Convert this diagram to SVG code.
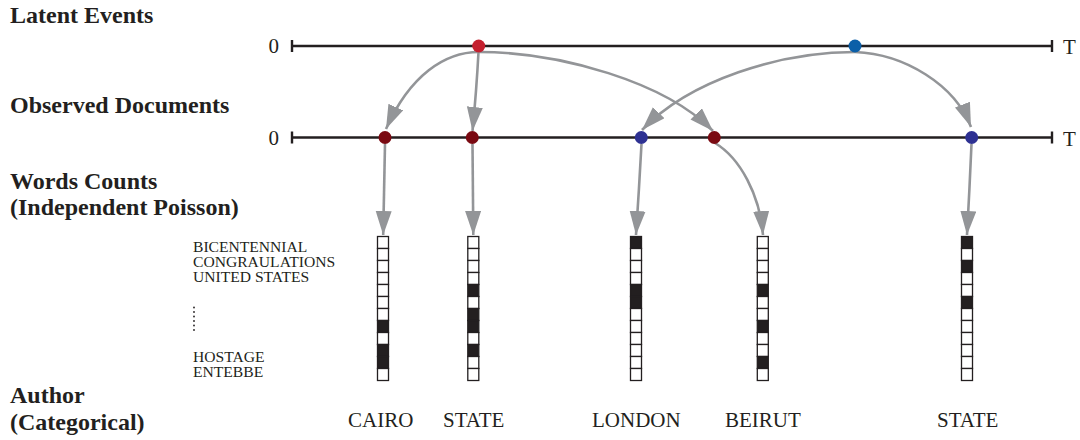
<svg xmlns="http://www.w3.org/2000/svg" width="1080" height="440" viewBox="0 0 1080 440">
<style>
.h{font-family:"Liberation Serif","Times New Roman",serif;font-weight:bold;font-size:24px;fill:#231f20}
.lab{font-family:"Liberation Serif","Times New Roman",serif;font-size:21px;fill:#231f20}
.w{font-family:"Liberation Serif","Times New Roman",serif;font-size:15.6px;fill:#231f20}
.ax{stroke:#231f20;stroke-width:2.4;fill:none}
.con{stroke:#939598;stroke-width:2.6;fill:none;marker-end:url(#ah)}
.c{fill:#fff;stroke:#231f20;stroke-width:1.3}
.f{fill:#231f20;stroke:#231f20;stroke-width:1.3}
</style>
<defs>
<marker id="ah" markerUnits="userSpaceOnUse" markerWidth="26" markerHeight="17" refX="24" refY="8" orient="auto">
<path d="M0,0 L24,8 L0,16 z" fill="#939598"/>
</marker>
</defs>
<rect width="1080" height="440" fill="#fff"/>

<g id="row-labels">
<text class="h" x="10" y="23">Latent Events</text>
<text class="h" x="10" y="113">Observed Documents</text>
<text class="h" x="10" y="189">Words Counts</text>
<text class="h" x="10" y="215">(Independent Poisson)</text>
<text class="h" x="10" y="403">Author</text>
<text class="h" x="10" y="430">(Categorical)</text>
</g>

<g id="axis-latent">
<line class="ax" x1="292" y1="46" x2="1052" y2="46"/>
<line class="ax" x1="292" y1="40" x2="292" y2="52"/>
<line class="ax" x1="1052" y1="40" x2="1052" y2="52"/>
<text class="lab" x="279" y="53" text-anchor="end">0</text>
<text class="lab" x="1063" y="54">T</text>
</g>
<g id="axis-docs">
<line class="ax" x1="292" y1="137.5" x2="1052" y2="137.5"/>
<line class="ax" x1="292" y1="131.5" x2="292" y2="143.5"/>
<line class="ax" x1="1052" y1="131.5" x2="1052" y2="143.5"/>
<text class="lab" x="279" y="144.5" text-anchor="end">0</text>
<text class="lab" x="1063" y="145.5">T</text>
</g>

<g id="connectors">
<path class="con" d="M479,52 C445,52 410,75 386,129"/>
<path class="con" d="M478.5,52 Q476.5,90 472.5,131"/>
<path class="con" d="M479,52 C560,52 665,82 713,131"/>
<path class="con" d="M855,52 C780,52 690,80 642,130"/>
<path class="con" d="M855,52 C905,54 955,85 971,127"/>
<path class="con" d="M385,144 L383.2,235"/>
<path class="con" d="M472.5,144 L473.3,235"/>
<path class="con" d="M641.5,144 Q639,190 636,235"/>
<path class="con" d="M715,143 C740,158 760,195 763,235"/>
<path class="con" d="M971.5,144 Q969.5,190 967,235"/>
</g>

<g id="event-red"><circle cx="478.7" cy="46" r="6.5" fill="#c4202f"/></g>
<g id="event-blue"><circle cx="855" cy="46" r="6.5" fill="#0b5fa8"/></g>
<g id="doc-1"><circle cx="385" cy="137.5" r="6.5" fill="#7a0a12"/></g>
<g id="doc-2"><circle cx="472.3" cy="137.5" r="6.5" fill="#7a0a12"/></g>
<g id="doc-3"><circle cx="641.3" cy="137.5" r="6.5" fill="#2e3192"/></g>
<g id="doc-4"><circle cx="714.3" cy="137.5" r="6.5" fill="#7a0a12"/></g>
<g id="doc-5"><circle cx="971.7" cy="137.5" r="6.5" fill="#2e3192"/></g>

<g id="vocab">
<text class="w" x="193" y="251.7">BICENTENNIAL</text>
<text class="w" x="193" y="266.7">CONGRAULATIONS</text>
<text class="w" x="193" y="281.7">UNITED STATES</text>
<g fill="#231f20">
<circle cx="194" cy="307.5" r="0.9"/><circle cx="194" cy="312" r="0.9"/><circle cx="194" cy="316.5" r="0.9"/>
<circle cx="194" cy="321" r="0.9"/><circle cx="194" cy="325.5" r="0.9"/><circle cx="194" cy="330" r="0.9"/>
</g>
<text class="w" x="193" y="361.7">HOSTAGE</text>
<text class="w" x="193" y="376.7">ENTEBBE</text>
</g>

<g id="counts-1" transform="translate(377.5,236.5)">
<rect class="c" x="0" y="0" width="11" height="12"/><rect class="c" x="0" y="12" width="11" height="12"/><rect class="c" x="0" y="24" width="11" height="12"/><rect class="c" x="0" y="36" width="11" height="12"/><rect class="c" x="0" y="48" width="11" height="12"/><rect class="c" x="0" y="60" width="11" height="12"/><rect class="c" x="0" y="72" width="11" height="12"/><rect class="f" x="0" y="84" width="11" height="12"/><rect class="c" x="0" y="96" width="11" height="12"/><rect class="f" x="0" y="108" width="11" height="12"/><rect class="f" x="0" y="120" width="11" height="12"/><rect class="c" x="0" y="132" width="11" height="12"/>
</g>
<g id="counts-2" transform="translate(467.8,236.5)">
<rect class="c" x="0" y="0" width="11" height="12"/><rect class="c" x="0" y="12" width="11" height="12"/><rect class="c" x="0" y="24" width="11" height="12"/><rect class="c" x="0" y="36" width="11" height="12"/><rect class="f" x="0" y="48" width="11" height="12"/><rect class="c" x="0" y="60" width="11" height="12"/><rect class="f" x="0" y="72" width="11" height="12"/><rect class="f" x="0" y="84" width="11" height="12"/><rect class="c" x="0" y="96" width="11" height="12"/><rect class="f" x="0" y="108" width="11" height="12"/><rect class="c" x="0" y="120" width="11" height="12"/><rect class="c" x="0" y="132" width="11" height="12"/>
</g>
<g id="counts-3" transform="translate(630.5,236.5)">
<rect class="f" x="0" y="0" width="11" height="12"/><rect class="c" x="0" y="12" width="11" height="12"/><rect class="c" x="0" y="24" width="11" height="12"/><rect class="c" x="0" y="36" width="11" height="12"/><rect class="f" x="0" y="48" width="11" height="12"/><rect class="f" x="0" y="60" width="11" height="12"/><rect class="c" x="0" y="72" width="11" height="12"/><rect class="c" x="0" y="84" width="11" height="12"/><rect class="c" x="0" y="96" width="11" height="12"/><rect class="c" x="0" y="108" width="11" height="12"/><rect class="c" x="0" y="120" width="11" height="12"/><rect class="c" x="0" y="132" width="11" height="12"/>
</g>
<g id="counts-4" transform="translate(757.3,236.5)">
<rect class="c" x="0" y="0" width="11" height="12"/><rect class="c" x="0" y="12" width="11" height="12"/><rect class="c" x="0" y="24" width="11" height="12"/><rect class="c" x="0" y="36" width="11" height="12"/><rect class="f" x="0" y="48" width="11" height="12"/><rect class="c" x="0" y="60" width="11" height="12"/><rect class="c" x="0" y="72" width="11" height="12"/><rect class="f" x="0" y="84" width="11" height="12"/><rect class="c" x="0" y="96" width="11" height="12"/><rect class="c" x="0" y="108" width="11" height="12"/><rect class="f" x="0" y="120" width="11" height="12"/><rect class="c" x="0" y="132" width="11" height="12"/>
</g>
<g id="counts-5" transform="translate(961.5,236.5)">
<rect class="f" x="0" y="0" width="11" height="12"/><rect class="c" x="0" y="12" width="11" height="12"/><rect class="f" x="0" y="24" width="11" height="12"/><rect class="c" x="0" y="36" width="11" height="12"/><rect class="c" x="0" y="48" width="11" height="12"/><rect class="f" x="0" y="60" width="11" height="12"/><rect class="c" x="0" y="72" width="11" height="12"/><rect class="c" x="0" y="84" width="11" height="12"/><rect class="c" x="0" y="96" width="11" height="12"/><rect class="c" x="0" y="108" width="11" height="12"/><rect class="c" x="0" y="120" width="11" height="12"/><rect class="c" x="0" y="132" width="11" height="12"/>
</g>

<g id="authors">
<text class="lab" x="348" y="426.5">CAIRO</text>
<text class="lab" x="443" y="426.5">STATE</text>
<text class="lab" x="592" y="426.5">LONDON</text>
<text class="lab" x="725" y="426.5">BEIRUT</text>
<text class="lab" x="937" y="426.5">STATE</text>
</g>
</svg>
